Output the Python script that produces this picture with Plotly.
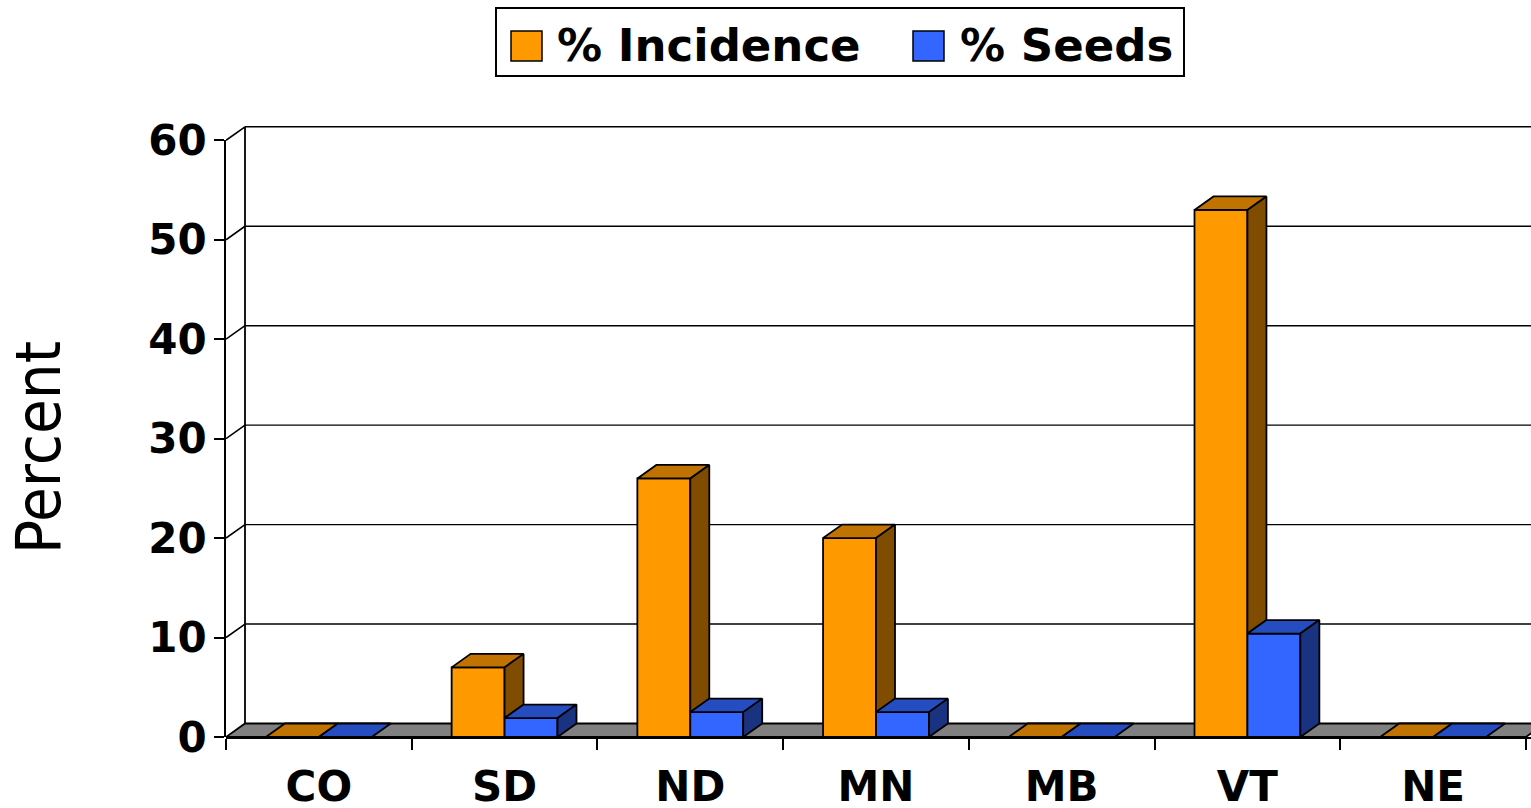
import plotly.graph_objects as go

# ---- data -------------------------------------------------------------
categories = ["CO", "SD", "ND", "MN", "MB", "VT", "NE"]
incidence = [0, 7.0, 26.0, 20.0, 0, 53.0, 0]
seeds = [0, 1.9, 2.5, 2.5, 0, 10.4, 0]
y_ticks = [0, 10, 20, 30, 40, 50, 60]

# ---- page / plot geometry --------------------------------------------
W, H = 1531, 808
M_L, M_R, M_T, M_B = 226, 0, 120, 71
PLOT_W = W - M_L - M_R
PLOT_H = H - M_T - M_B
N = len(categories)
CAT_PX = 1300 / N                 # pixel width of one category slot
UNIT_PX = 596.7 / y_ticks[-1]     # pixels per percent on the front plane
X_LO = -0.5
X_HI = X_LO + PLOT_W / CAT_PX
Y_MAX = PLOT_H / UNIT_PX

# depth of the pseudo-3D extrusion, in axis units
DX = 19 / CAT_PX
DY = 13.5 / UNIT_PX
BW = 0.285                         # bar width (category units)

ORANGE, ORANGE_TOP, ORANGE_SIDE = "#FF9900", "#C07300", "#804D00"
BLUE, BLUE_TOP, BLUE_SIDE = "#3366FF", "#264DBF", "#1A3380"
EDGE = dict(color="black", width=1.8)


def extrusion(values, left, right, lower=None):
    """Top and side faces of each bar as closed polygons (None-separated)."""
    tx, ty, sx, sy = [], [], [], []
    for i, v in enumerate(values):
        x0, x1 = i + left, i + right
        tx += [x0, x1, x1 + DX, x0 + DX, x0, None]
        ty += [v, v, v + DY, v + DY, v, None]
        if v > 0:
            lo = 0 if lower is None else min(lower[i], v)
            sx += [x1, x1 + DX, x1 + DX, x1, x1, None]
            sy += [lo, lo + DY, v + DY, v, lo, None]
    return tx, ty, sx, sy


fig = go.Figure()

# front faces
fig.add_trace(go.Bar(x=list(range(N)), y=incidence, width=BW, offset=-BW,
                     marker=dict(color=ORANGE, line=EDGE),
                     name="% Incidence", hoverinfo="skip"))
fig.add_trace(go.Bar(x=list(range(N)), y=seeds, width=BW, offset=0,
                     marker=dict(color=BLUE, line=EDGE),
                     name="% Seeds", hoverinfo="skip"))

# tops and sides; the orange side is hidden behind the blue bar up to its height
otx, oty, osx, osy = extrusion(incidence, -BW, 0, lower=seeds)
btx, bty, bsx, bsy = extrusion(seeds, 0, BW)
for xs, ys, col in [(otx, oty, ORANGE_TOP), (osx, osy, ORANGE_SIDE),
                    (btx, bty, BLUE_TOP), (bsx, bsy, BLUE_SIDE)]:
    fig.add_trace(go.Scatter(x=xs, y=ys, mode="lines", fill="toself",
                             fillcolor=col, line=EDGE, hoverinfo="skip",
                             showlegend=False))

# empty trace so the front value axis (y2) gets its own subplot
fig.add_trace(go.Scatter(x=[None], y=[None], yaxis="y2", mode="lines",
                         showlegend=False, hoverinfo="skip"))

# ---- walls and floor -------------------------------------------------
shapes = []
wall_x = X_LO + DX
for t in y_ticks[1:]:
    shapes.append(dict(type="line", xref="x", yref="y", layer="below",
                       x0=wall_x, x1=N - 0.5 + DX, y0=t + DY, y1=t + DY,
                       line=dict(color="black", width=1.4)))
    shapes.append(dict(type="line", xref="x", yref="y", layer="below",
                       x0=X_LO, x1=wall_x, y0=t, y1=t + DY,
                       line=dict(color="black", width=1.6)))
shapes.append(dict(type="line", xref="x", yref="y", layer="below",
                   x0=wall_x, x1=wall_x, y0=DY, y1=y_ticks[-1] + DY,
                   line=dict(color="black", width=1.8)))
floor_path = (f"M {X_LO},0 L {N - 0.5},0 L {N - 0.5 + DX},{DY} "
              f"L {X_LO + DX},{DY} Z")
shapes.append(dict(type="path", xref="x", yref="y", layer="below",
                   path=floor_path, fillcolor="#808080",
                   line=dict(color="black", width=1.8)))


# ---- legend box ------------------------------------------------------
def px_x(p):
    return (p - M_L) / PLOT_W


def px_y(p):
    return (H - M_B - p) / PLOT_H


shapes.append(dict(type="rect", xref="paper", yref="paper",
                   x0=px_x(496), x1=px_x(1184), y0=px_y(76), y1=px_y(8),
                   fillcolor="white", line=dict(color="black", width=2)))
annotations = []
for name, col, sq_left, txt_left in [("% Incidence", ORANGE, 511, 555),
                                     ("% Seeds", BLUE, 913, 958)]:
    shapes.append(dict(type="rect", xref="paper", yref="paper",
                       x0=px_x(sq_left), x1=px_x(sq_left + 31),
                       y0=px_y(61), y1=px_y(31), fillcolor=col,
                       line=dict(color="black", width=1.5)))
    annotations.append(dict(text=name, xref="paper", yref="paper",
                            x=px_x(txt_left), y=px_y(46), xanchor="left",
                            yanchor="middle", showarrow=False,
                            font=dict(family="DejaVu Sans", size=45,
                                      color="black", weight="bold")))

annotations.append(dict(text="Percent", xref="paper", yref="paper",
                        x=px_x(38), y=px_y(448), textangle=-90,
                        xanchor="center", yanchor="middle", showarrow=False,
                        font=dict(family="DejaVu Sans Condensed, DejaVu Sans",
                                  size=63, color="black")))

tick_font = dict(family="DejaVu Sans", size=42, color="black", weight="bold")

fig.update_layout(
    width=W, height=H,
    margin=dict(l=M_L, r=M_R, t=M_T, b=M_B, pad=0),
    paper_bgcolor="white", plot_bgcolor="rgba(0,0,0,0)",
    barmode="overlay", showlegend=False,
    shapes=shapes, annotations=annotations,
    xaxis=dict(range=[X_LO, X_HI], tickmode="array", automargin=False,
               tickvals=list(range(N)), ticktext=categories, ticks="",
               showgrid=False, zeroline=False, showline=True,
               linecolor="black", linewidth=1.8, tickfont=tick_font,
               ticklabelstandoff=12,
               minor=dict(tickmode="array",
                          tickvals=[i - 0.5 for i in range(N + 1)],
                          ticks="outside", ticklen=11, tickwidth=1.6,
                          tickcolor="black", showgrid=False)),
    yaxis=dict(range=[0, Y_MAX], visible=False, showgrid=False,
               zeroline=False, automargin=False),
    yaxis2=dict(domain=[0, y_ticks[-1] / Y_MAX], range=[0, y_ticks[-1]],
                anchor="x", tickmode="array", tickvals=y_ticks,
                ticks="outside", ticklen=10, tickwidth=1.6, automargin=False,
                tickcolor="black", showline=True, linecolor="black",
                linewidth=1.8, showgrid=False, zeroline=False,
                tickfont=tick_font, ticklabelstandoff=-1),
)

fig.write_html("out.html")
